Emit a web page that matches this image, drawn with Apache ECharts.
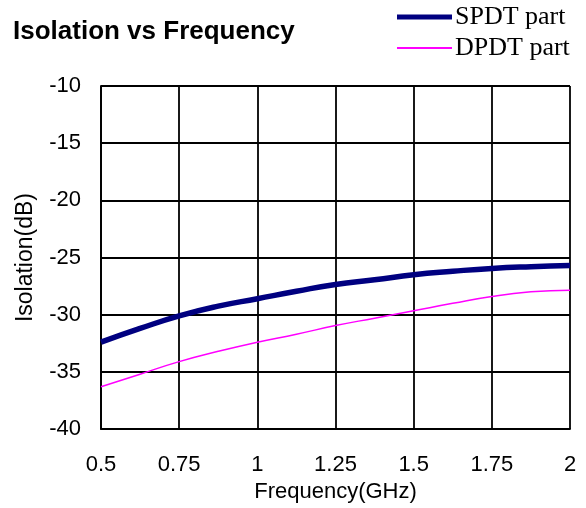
<!DOCTYPE html>
<html>
<head>
<meta charset="utf-8">
<script src="https://cdn.jsdelivr.net/npm/echarts@6/dist/echarts.min.js"></script>
<style>
  html, body { margin: 0; padding: 0; background: #fff; }
  #chart { width: 586px; height: 508px; }
</style>
</head>
<body>
<div id="chart"></div>
<script>
// frequency points (GHz)
var freq = [0.5, 0.625, 0.75, 0.875, 1.0, 1.125, 1.25, 1.375, 1.5, 1.625, 1.75, 1.875, 2.0];
// isolation (dB)
var spdt = [-32.4, -31.2, -30.1, -29.25, -28.6, -27.95, -27.35, -26.95, -26.5, -26.2, -25.95, -25.8, -25.7];
var dpdt = [-36.3, -35.2, -34.1, -33.2, -32.4, -31.7, -30.95, -30.3, -29.65, -29.0, -28.4, -28.0, -27.85];

function pairs(xs, ys) {
    return xs.map(function (x, i) { return [x, ys[i]]; });
}

var legendText = { fontFamily: 'Liberation Serif', fontSize: 26, color: '#000', padding: [0, 0, 0, -2] };
var axisFont = { fontFamily: 'Liberation Sans', fontSize: 22, color: '#000' };

var myChart = echarts.init(document.getElementById('chart'));
var option = {
    animation: false,
    title: {
        text: 'Isolation vs Frequency',
        left: 13,
        top: 19,
        padding: 0,
        textStyle: { fontFamily: 'Liberation Sans', fontWeight: 'bold', fontSize: 26, color: '#000' }
    },
    // two legends so each key line gets its own thickness
    legend: [
        {
            left: 397, top: 4, padding: 0,
            icon: 'rect', itemWidth: 55, itemHeight: 5,
            textStyle: legendText,
            data: ['SPDT part']
        },
        {
            left: 397, top: 35, padding: 0,
            icon: 'rect', itemWidth: 55, itemHeight: 2,
            textStyle: legendText,
            data: ['DPDT part']
        }
    ],
    grid: { left: 101, right: 16, top: 86, bottom: 76 },
    xAxis: {
        type: 'value',
        min: 0.5,
        max: 2,
        interval: 0.25,
        name: 'Frequency(GHz)',
        nameLocation: 'middle',
        nameGap: 50,
        nameTextStyle: axisFont,
        axisLine: { lineStyle: { color: '#000', width: 1.8 } },
        axisTick: { show: false },
        axisLabel: {
            fontFamily: 'Liberation Sans', fontSize: 22, color: '#000', margin: 25,
            formatter: function (v) { return String(v); }
        },
        splitLine: { lineStyle: { color: '#000', width: 1.8 } }
    },
    yAxis: {
        type: 'value',
        min: -40,
        max: -10,
        interval: 5,
        name: 'Isolation(dB)',
        nameLocation: 'middle',
        nameGap: 64,
        nameTextStyle: { fontFamily: 'Liberation Sans', fontSize: 23, color: '#000' },
        axisLine: { show: true, lineStyle: { color: '#000', width: 1.8 } },
        axisTick: { show: false },
        axisLabel: { fontFamily: 'Liberation Sans', fontSize: 22, color: '#000', margin: 20 },
        splitLine: { lineStyle: { color: '#000', width: 1.8 } }
    },
    series: [
        {
            name: 'SPDT part',
            type: 'line',
            smooth: true,
            symbol: 'none',
            data: pairs(freq, spdt),
            lineStyle: { color: '#000080', width: 5.5 },
            itemStyle: { color: '#000080' }
        },
        {
            name: 'DPDT part',
            type: 'line',
            smooth: true,
            symbol: 'none',
            data: pairs(freq, dpdt),
            lineStyle: { color: '#ff00ff', width: 1.5 },
            itemStyle: { color: '#ff00ff' }
        }
    ]
};
myChart.setOption(option);
</script>
</body>
</html>
